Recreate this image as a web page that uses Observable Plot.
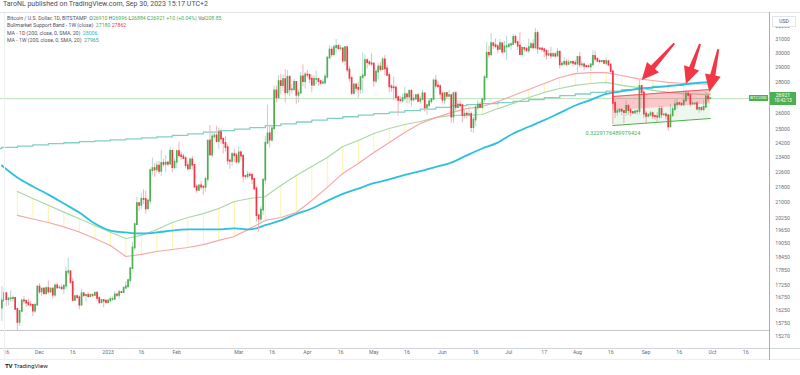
<!DOCTYPE html>
<html><head><meta charset="utf-8">
<script src="https://cdn.jsdelivr.net/npm/d3@7"></script>
<script src="https://cdn.jsdelivr.net/npm/@observablehq/plot@0.6"></script>
<style>
body{margin:0;background:#fff;font-family:Roboto,"Liberation Sans",sans-serif;}
#wrap{position:relative;width:800px;height:375px;overflow:hidden;background:#fff;}
#wrap svg{position:absolute;left:0;top:0;}
.ov{position:absolute;white-space:nowrap;line-height:1;}
.g{color:#4caf50}.r{color:#f23645}.c{color:#1fb7d6}.t{color:#26a69a}.l{color:#50535e}
.hl{position:absolute;background:#e0e3eb;}
</style></head><body><div id="wrap"></div>
<script>
// ---------- DATA ----------
const candleStart = "2022-11-14";
// rows: [open, high, low, close]
const nov22 = [[16330,17190,15820,16610],[16610,17130,16550,16900],[16900,16960,16380,16660],[16660,16750,16420,16690],[16690,17010,16560,16700],[16700,16820,16560,16710],[16710,16740,16260,16280],[16280,16290,15480,15780],[15780,16250,15630,16200],[16200,16680,16170,16610],[16610,16800,16470,16600],[16600,16610,16360,16520],[16520,16690,16420,16450],[16450,16600,16410,16440],[16440,16480,16000,16210],[16210,16530,16110,16440],[16440,17220,16430,17170]];
const dec22 = [[17170,17310,16870,16970],[16970,17100,16780,17090],[17090,17150,16870,16890],[16890,17200,16880,17110],[17110,17420,16880,16970],[16970,17110,16910,17090],[17090,17140,16690,16840],[16840,17300,16740,17220],[17220,17340,17100,17130],[17130,17230,17090,17130],[17130,17270,17070,17090],[17090,17240,16870,17210],[17210,18000,17080,17780],[17780,18390,17660,17810],[17810,17850,17280,17360],[17360,17530,16580,16630],[16630,16800,16590,16780],[16780,16860,16670,16740],[16740,16820,16260,16440],[16440,17060,16400,16900],[16900,16910,16740,16820],[16820,16860,16570,16830],[16830,16940,16780,16780],[16780,16870,16780,16840],[16840,16860,16730,16830],[16830,16940,16790,16920],[16920,16960,16600,16710],[16710,16780,16470,16540],[16540,16650,16490,16630],[16630,16640,16340,16600],[16600,16640,16490,16540]];
const jan23 = [[16540,16630,16490,16610],[16610,16760,16550,16670],[16670,16770,16600,16670],[16670,16980,16660,16850],[16850,16880,16750,16830],[16830,17040,16680,16950],[16950,16960,16900,16940],[16940,17180,16910,17120],[17120,17390,17110,17180],[17180,17490,17140,17440],[17440,17990,17320,17940],[17940,19100,17920,18850],[18850,19990,18720,19930],[19930,21260,19880,20950],[20950,21000,20570,20870],[20870,21450,20650,21170],[21170,21650,20900,21160],[21160,21580,20430,20690],[20690,21180,20670,21080],[21080,22750,20890,22670],[22670,23360,22400,22780],[22780,23070,22320,22710],[22710,23160,22530,22920],[22920,23170,22460,22630],[22630,23780,22360,23060],[23060,23290,22860,23010],[23010,23500,22560,23080],[23080,23180,22880,23030],[23030,23950,23000,23740],[23740,23800,22550,22830],[22830,23310,22730,23130]];
const feb23 = [[23130,23800,22770,23730],[23730,24250,23370,23490],[23490,23700,23240,23430],[23430,23580,23280,23330],[23330,23430,22760,22940],[22940,23160,22650,22760],[22760,23350,22750,23260],[23260,23450,22700,22960],[22960,22990,21720,21800],[21800,21910,21470,21630],[21630,21900,21600,21860],[21860,22100,21630,21790],[21790,21890,21370,21780],[21780,22310,21540,22200],[22200,24370,22050,24330],[24330,25250,23520,23520],[23520,24880,23360,24570],[24570,24760,24460,24630],[24630,25200,24200,24300],[24300,25100,23850,24830],[24830,25020,24150,24440],[24440,24470,23590,24190],[24190,24600,23700,23950],[23950,24130,22960,23200],[23200,23220,22740,23170],[23170,23680,22890,23560],[23560,23860,23110,23490],[23490,23620,23040,23140]];
const mar23 = [[23140,24000,23010,23650],[23650,23780,23200,23470],[23470,23480,22040,22360],[22360,22420,22180,22350],[22350,22610,22210,22430],[22430,22560,22260,22410],[22410,22540,21930,22200],[22200,22270,21590,21700],[21700,21810,20050,20360],[20360,20370,19570,20190],[20190,20810,19950,20630],[20630,22200,20370,22160],[22160,24600,21920,24200],[24200,26500,24100,24750],[24750,25270,23930,24380],[24380,25200,24250,25050],[25050,27740,25010,27420],[27420,27750,26650,26970],[26970,28430,26900,28040],[28040,28520,27160,27770],[27770,28470,27350,28170],[28170,28860,26650,27300],[27300,28790,27150,28330],[28330,28410,27020,27490],[27490,27830,27200,27490],[27490,28190,27460,27990],[27990,28020,26560,27140],[27140,27480,26650,27270],[27270,28650,27240,28350],[28350,29180,27700,28030],[28030,28650,27540,28480]];
const apr23 = [[28480,28810,28260,28460],[28460,28530,27880,28200],[28200,28490,27300,27800],[27800,28450,27680,28180],[28180,28750,27840,28180],[28180,28190,27720,28040],[28040,28100,27780,27920],[27920,28170,27880,27950],[27950,28540,27800,28340],[28340,29760,28190,29650],[29650,30540,29600,30230],[30230,30460,29700,29890],[29890,30600,29850,30400],[30400,31000,29960,30490],[30490,30620,30250,30320],[30320,30570,30150,30320],[30320,30340,29270,29450],[29450,30480,29110,30400],[30400,30420,28650,28820],[28820,29050,28000,28250],[28250,28370,27130,27260],[27260,27880,27150,27820],[27820,27820,27340,27590],[27590,28000,26950,27520],[27520,28370,27220,28310],[28310,30020,27240,28420],[28420,29880,28390,29470],[29470,29600,28900,29340],[29340,29450,29070,29250],[29250,29970,29080,29230]];
const may23 = [[29230,29330,27680,28070],[28070,28880,27880,28680],[28680,29260,28130,29030],[29030,29360,28690,28850],[28850,29690,28810,29530],[29530,29830,28420,28900],[28900,29150,28390,28450],[28450,28630,27300,27690],[27690,27830,27340,27630],[27630,28330,26780,27620],[27620,27650,26760,26990],[26990,27080,25820,26800],[26800,27030,26710,26780],[26780,27180,26620,26930],[26930,27660,26780,27170],[27170,27270,26600,27030],[27030,27470,26570,27400],[27400,27480,26380,26830],[26830,27170,26700,26890],[26890,27150,26840,27120],[27120,27270,26680,26750],[26750,27050,26540,26850],[26850,27490,26810,27230],[27230,27230,26080,26330],[26330,26540,25870,26480],[26480,26920,26320,26720],[26720,26880,26570,26870],[26870,28200,26780,28080],[28080,28450,27560,27740],[27740,28050,27580,27700],[27700,27830,26860,27210]];
const jun23 = [[27210,27350,26610,26820],[26820,27300,26510,27250],[27250,27320,26930,27070],[27070,27440,26980,27120],[27120,27130,25400,25760],[25760,27350,25370,27240],[27240,27390,26140,26350],[26350,26790,26320,26500],[26500,26790,26270,26480],[26480,26530,25400,25850],[25850,26210,25650,25940],[25940,26090,25640,25900],[25900,26410,25750,25920],[25920,26080,24830,25120],[25120,25750,24770,25580],[25580,26470,25180,26330],[26330,26790,26170,26510],[26510,26690,26300,26340],[26340,26960,26270,26850],[26850,28430,26660,28310],[28310,30800,28280,30000],[30000,30500,29620,29890],[29890,31440,29820,30690],[30690,30800,30270,30550],[30550,31050,30310,30470],[30470,30660,29960,30270],[30270,31000,30230,30690],[30690,30720,29900,30080],[30080,30850,30050,30450],[30450,31260,29500,30480]];
const jul23 = [[30480,30660,30330,30590],[30590,30790,30200,30620],[30620,31390,30570,31160],[31160,31330,30640,30770],[30770,30880,30210,30510],[30510,31500,29850,29900],[29900,30450,29720,30350],[30350,30380,30060,30290],[30290,30430,30070,30170],[30170,31030,29970,30410],[30410,30800,30290,30620],[30620,30980,30230,30390],[30390,31820,30260,31450],[31450,31630,29930,30310],[30310,30400,30250,30290],[30290,30450,30080,30250],[30250,30340,29680,30140],[30140,30240,29510,29860],[29860,30200,29760,29910],[29910,30420,29570,29800],[29800,30060,29720,29900],[29900,30000,29630,29790],[29790,30340,29740,30080],[30080,30090,28880,29180],[29180,29380,29040,29230],[29230,29690,29100,29350],[29350,29570,29070,29210],[29210,29530,29120,29310],[29310,29420,29260,29350],[29350,29450,29030,29280],[29280,29520,29120,29230]];
const aug23 = [[29230,29740,28600,29700],[29700,30050,28960,29170],[29170,29410,28970,29180],[29180,29310,28750,29080],[29080,29110,28960,29050],[29050,29170,28990,29040],[29040,29250,28720,29180],[29180,30180,29120,29770],[29770,30130,29380,29570],[29570,29700,29330,29430],[29430,29540,29250,29400],[29400,29470,29360,29420],[29420,29450,29250,29280],[29280,29670,29080,29410],[29410,29460,29050,29170],[29170,29220,28700,28700],[28700,28770,25300,26620],[26620,26810,25670,26050],[26050,26280,25800,26100],[26100,26270,25980,26190],[26190,26250,25840,26120],[26120,26130,25350,26040],[26040,26800,25800,26430],[26430,26550,25860,26160],[26160,26300,25770,26050],[26050,26100,25960,26000],[26000,26170,25980,26090],[26090,26220,25880,26100],[26100,28150,25910,27720],[27720,27760,27040,27300],[27300,27570,25660,25940]];
const sep23 = [[25940,26130,25340,25800],[25800,25980,25720,25870],[25870,26110,25810,25970],[25970,26080,25620,25810],[25810,25880,25570,25780],[25780,26030,25370,25750],[25750,26430,25620,26240],[26240,26430,25670,25900],[25900,25930,25820,25900],[25900,26010,25580,25840],[25840,25890,24900,25160],[25160,26560,25130,25840],[25840,26380,25760,26220],[26220,26820,26140,26530],[26530,26870,26230,26600],[26600,26680,26480,26570],[26570,26620,26410,26530],[26530,27410,26390,26770],[26770,27490,26690,27210],[27210,27380,26820,27130],[27130,27160,26380,26570],[26570,26720,26500,26580],[26580,26640,26520,26580],[26580,26730,26140,26250],[26250,26430,25990,26300],[26300,26390,26100,26220],[26220,26820,26100,26370],[26370,27310,26350,27030],[27030,27240,26680,26910],[26910,26996,26884,26921]];

// weekly points (Mondays from 2022-11-07) plus the last bar
const weekFirst = "2022-11-07", weekLast = "2023-09-25", lastBar = "2023-09-30";
// MA - 1W (200) : from 2022-11-07 ... 2023-09-25, then last bar
const ma1w = [23900,23960,24030,24110,24180,24230,24290,24340,24400,24450,24510,24570,24660,24750,24850,24940,25030,25120,25240,25350,25460,25580,25680,25780,25880,25980,26070,26160,26260,26360,26480,26540,26600,26670,26750,26860,26990,27120,27220,27320,27410,27510,27610,27710,27780,27910,27965,27965];
// MA - 1D (200) : from 2022-11-14 ... 2023-09-25, then last bar
const ma1d = [22950,22300,21830,21410,20960,20510,19980,19650,19560,19510,19560,19650,19700,19700,19700,19750,19700,19900,20130,20440,20710,21090,21450,21720,22000,22200,22440,22640,22870,23110,23510,23900,24240,24770,25170,25570,26020,26480,26840,27220,27390,27550,27650,27740,27850,27965,28006];
// Bull market support band (1W) : from 2022-11-21 ... 2023-09-18, then last bar
const bandGreen = [21570,21210,20870,20530,20210,19890,19570,19280,19420,19700,20030,20270,20460,20710,21060,21210,21310,21880,22410,22890,23390,24010,24360,24770,25070,25310,25490,25730,25860,25860,25920,26290,26610,26990,27320,27580,27780,27910,27980,27780,27650,27450,27320,27250,27180];
const bandRed = [20370,20200,20030,19820,19580,19280,18960,18470,18560,18690,18780,18870,19000,19190,19370,19740,20130,20270,20510,21110,21780,22520,23060,23670,24240,24830,25370,25730,26040,26290,26420,26740,27120,27510,27910,28310,28580,28650,28650,28450,28240,28110,27980,27910,27860];

const lastPrice = 26921;
const cycleLow = 15480;

// regression trend drawing
const channelDates = ["2023-08-17", "2023-09-30"];
const channelUpper = [27060, 27510];
const channelBase = [26140, 26580];
const channelLower = [25250, 25670];
const pearsonR = "0.3229176489979424";
const pearsonPos = ["2023-08-17", 24770];

// arrow drawings: [date, price]
const arrowTails = [["2023-09-13T23:00Z", 30684], ["2023-09-25T14:00Z", 30631], ["2023-10-03T20:00Z", 30250]];
const arrowTips = [["2023-08-30T06:00Z", 28110], ["2023-09-19T06:00Z", 27845], ["2023-09-29T19:00Z", 27336]];

// axes
const yTicks = [32000,31000,30000,29000,28000,26000,25000,24200,23400,22600,21800,21000,20250,19650,19050,18450,17850,17250,16750,16250,15750,15270];
const xTicks = [["2022-11-16","16"],["2022-12-01","Dec"],["2022-12-16","16"],["2023-01-01","2023"],["2023-01-16","16"],["2023-02-01","Feb"],["2023-03-01","Mar"],["2023-03-16","16"],["2023-04-01","Apr"],["2023-04-16","16"],["2023-05-01","May"],["2023-05-16","16"],["2023-06-01","Jun"],["2023-06-16","16"],["2023-07-01","Jul"],["2023-07-17","17"],["2023-08-01","Aug"],["2023-08-16","16"],["2023-09-01","Sep"],["2023-09-16","16"],["2023-10-01","Oct"],["2023-10-16","16"]];
const viewStart = "2022-11-13T09:11Z", viewEnd = "2023-10-26T18:00Z";
const priceMin = 14828, priceMax = 32985;

// ---------- BUILD ----------
const D = s => new Date(s.length === 10 ? s + "T00:00:00Z" : s);
const day0 = D(candleStart);
const candles = [nov22, dec22, jan23, feb23, mar23, apr23, may23, jun23, jul23, aug23, sep23].flat()
  .map(([o, h, l, c], i) => ({date: d3.utcDay.offset(day0, i), o, h, l, c}));
const mondays = d3.utcMonday.range(D(weekFirst), d3.utcDay.offset(D(weekLast), 1));
const withLast = arr => arr.concat([D(lastBar)]);
const w1 = withLast(mondays).map((date, i) => ({date, v: ma1w[i]}));
const d1 = withLast(mondays.slice(1)).map((date, i) => ({date, v: ma1d[i]}));
const band = withLast(mondays.slice(2, 46)).map((date, i) => ({date, g: bandGreen[i], r: bandRed[i]}));
const channel = channelDates.map((d, i) => ({date: D(d), u: channelUpper[i], b: channelBase[i], l: channelLower[i]}));

const UP = "#4caf50", DOWN = "#f23645", UPW = "#b5d8d2", DOWNW = "#f5b1b8";
const font = "Roboto, 'Liberation Sans', sans-serif";

const plot = Plot.plot({
  width: 800, height: 375,
  marginTop: 13, marginBottom: 27, marginLeft: 0, marginRight: 31,
  x: {type: "utc", domain: [D(viewStart), D(viewEnd)], axis: null},
  y: {type: "log", domain: [priceMin, priceMax], axis: null},
  color: {type: "identity"},
  style: {fontFamily: font, background: "transparent", overflow: "visible"},
  marks: [
    Plot.ruleY([cycleLow], {stroke: "#c4c6cc", strokeWidth: 1}),
    Plot.ruleY([lastPrice], {stroke: "#b9e3bb", strokeWidth: 1}),
    Plot.ruleX(band, {x: "date", y1: "g", y2: "r", stroke: "#fff2a8", strokeWidth: 1, clip: true}),
    Plot.line(band, {x: "date", y: "g", stroke: "#a8d8a9", strokeWidth: 1.2, clip: true}),
    Plot.line(band, {x: "date", y: "r", stroke: "#f7a7a7", strokeWidth: 1.2, clip: true}),
    Plot.line(w1, {x: "date", y: "v", curve: "step-after", stroke: "#82cfc6", strokeWidth: 1.3, clip: true}),
    Plot.line(d1, {x: "date", y: "v", curve: "monotone-x", stroke: "#2bc0df", strokeWidth: 1.8, clip: true}),
    Plot.ruleX(candles, {x: "date", y1: "l", y2: "h", stroke: d => d.c >= d.o ? UPW : DOWNW, strokeWidth: 1, clip: true}),
    Plot.ruleX(candles, {x: "date", y1: "o", y2: "c", stroke: d => d.c >= d.o ? UP : DOWN, strokeWidth: 1.7, strokeLinecap: "square", clip: true}),
    Plot.areaY(channel, {x: "date", y1: "b", y2: "u", fill: "#f23645", fillOpacity: 0.28}),
    Plot.areaY(channel, {x: "date", y1: "l", y2: "b", fill: "#4caf50", fillOpacity: 0.1}),
    Plot.line(channel, {x: "date", y: "u", stroke: "#f23645", strokeWidth: 1.1, strokeOpacity: 0.8}),
    Plot.line(channel, {x: "date", y: "l", stroke: "#4caf50", strokeWidth: 1.1}),
    Plot.text([pearsonR], {x: () => D(pearsonPos[0]), y: () => pearsonPos[1], text: d => d, fill: "#4caf50", fontSize: 5.6}),
    Plot.text(yTicks, {y: d => d, text: d => String(d), frameAnchor: "right", dx: 13, textAnchor: "middle", fill: "#6a6d78", fontSize: 5.2}),
    Plot.text(xTicks, {x: d => D(d[0]), text: d => d[1], frameAnchor: "bottom", dy: 5.5, fill: "#6a6d78", fontSize: 5.2})
  ]
});
const wrap = document.getElementById("wrap");
wrap.appendChild(plot);

// arrows drawn from the plot's own scales
const sx = plot.scale("x"), sy = plot.scale("y");
const g = d3.select(plot).append("g");
arrowTails.forEach((t, i) => {
  const tip = arrowTips[i];
  const x0 = sx.apply(D(t[0])), y0 = sy.apply(t[1]);
  const x1 = sx.apply(D(tip[0])), y1 = sy.apply(tip[1]);
  const len = Math.hypot(x1 - x0, y1 - y0), ux = (x1 - x0) / len, uy = (y1 - y0) / len, nx = -uy, ny = ux;
  const hl = 17, bx = x1 - ux * hl, by = y1 - uy * hl;
  const pts = [[x0 + nx * 1, y0 + ny * 1], [bx + nx * 2.6, by + ny * 2.6], [bx + nx * 8, by + ny * 8], [x1, y1],
               [bx - nx * 8, by - ny * 8], [bx - nx * 2.6, by - ny * 2.6], [x0 - nx * 1, y0 - ny * 1]];
  g.append("polygon").attr("points", pts.map(p => p.join(",")).join(" ")).attr("fill", "#f23645");
});

// chrome / overlays
function div(cls, css, html) { const e = document.createElement("div"); e.className = cls; e.style.cssText = css; if (html) e.innerHTML = html; wrap.appendChild(e); return e; }
div("hl", "left:0;top:12px;width:800px;height:1px;");
div("hl", "left:0;top:348px;width:800px;height:1px;background:#d1d4dc;");
div("hl", "left:0;top:359px;width:800px;height:1px;background:#eceef2;");
div("hl", "left:769px;top:12px;width:1px;height:348px;background:#a9acb5;");
div("hl", "left:4px;top:13px;width:1px;height:346px;background:#eef0f3;");
div("ov", "left:3px;top:1px;font-size:7px;color:#4a4d57;", "TaroNL published on TradingView.com, Sep 30, 2023 15:17 UTC+2");
div("ov", "left:7px;top:15.5px;font-size:5.2px;", '<span class="l">Bitcoin / U.S. Dollar, 1D, BITSTAMP&nbsp; O</span><span class="g">26910</span> <span class="l">H</span><span class="g">26996</span> <span class="l">L</span><span class="g">26884</span> <span class="l">C</span><span class="g">26921</span> <span class="g">+10 (+0.04%)</span> <span class="l">Vol</span><span class="g">208.85</span>');
div("ov", "left:7px;top:22.5px;font-size:5.2px;", '<span class="l">Bullmarket Support Band - 1W (close)&nbsp; </span><span class="g">27180</span> <span class="r">27862</span>');
div("ov", "left:7px;top:30.5px;font-size:5.2px;", '<span class="l">MA - 1D (200, close, 0, SMA, 20)&nbsp; </span><span class="c">28006</span>');
div("ov", "left:7px;top:37.5px;font-size:5.2px;", '<span class="l">MA - 1W (200, close, 0, SMA, 20)&nbsp; </span><span class="t">27965</span>');
div("ov", "left:772px;top:16px;width:22px;height:9px;border:1px solid #e0e3eb;background:#fff;font-size:5px;color:#50535e;text-align:center;line-height:9px;", "USD");
const py = sy.apply(lastPrice);
div("ov", `left:770px;top:${py - 6.5}px;width:26px;height:13px;background:#4caf50;color:#fff;font-size:5.2px;text-align:center;`, '<div style="margin-top:1.5px">26921</div><div style="margin-top:1px;font-size:4.6px">10:42:13</div>');
div("ov", `left:749px;top:${py - 3.3}px;width:19px;height:6.6px;background:#4caf50;color:#fff;font-size:4.4px;text-align:center;line-height:6.6px;`, "BTCUSD");
div("ov", "left:5px;top:362.5px;font-size:6.2px;color:#131722;", '<b style="letter-spacing:-0.3px">TV</b> TradingView');
</script></body></html>
